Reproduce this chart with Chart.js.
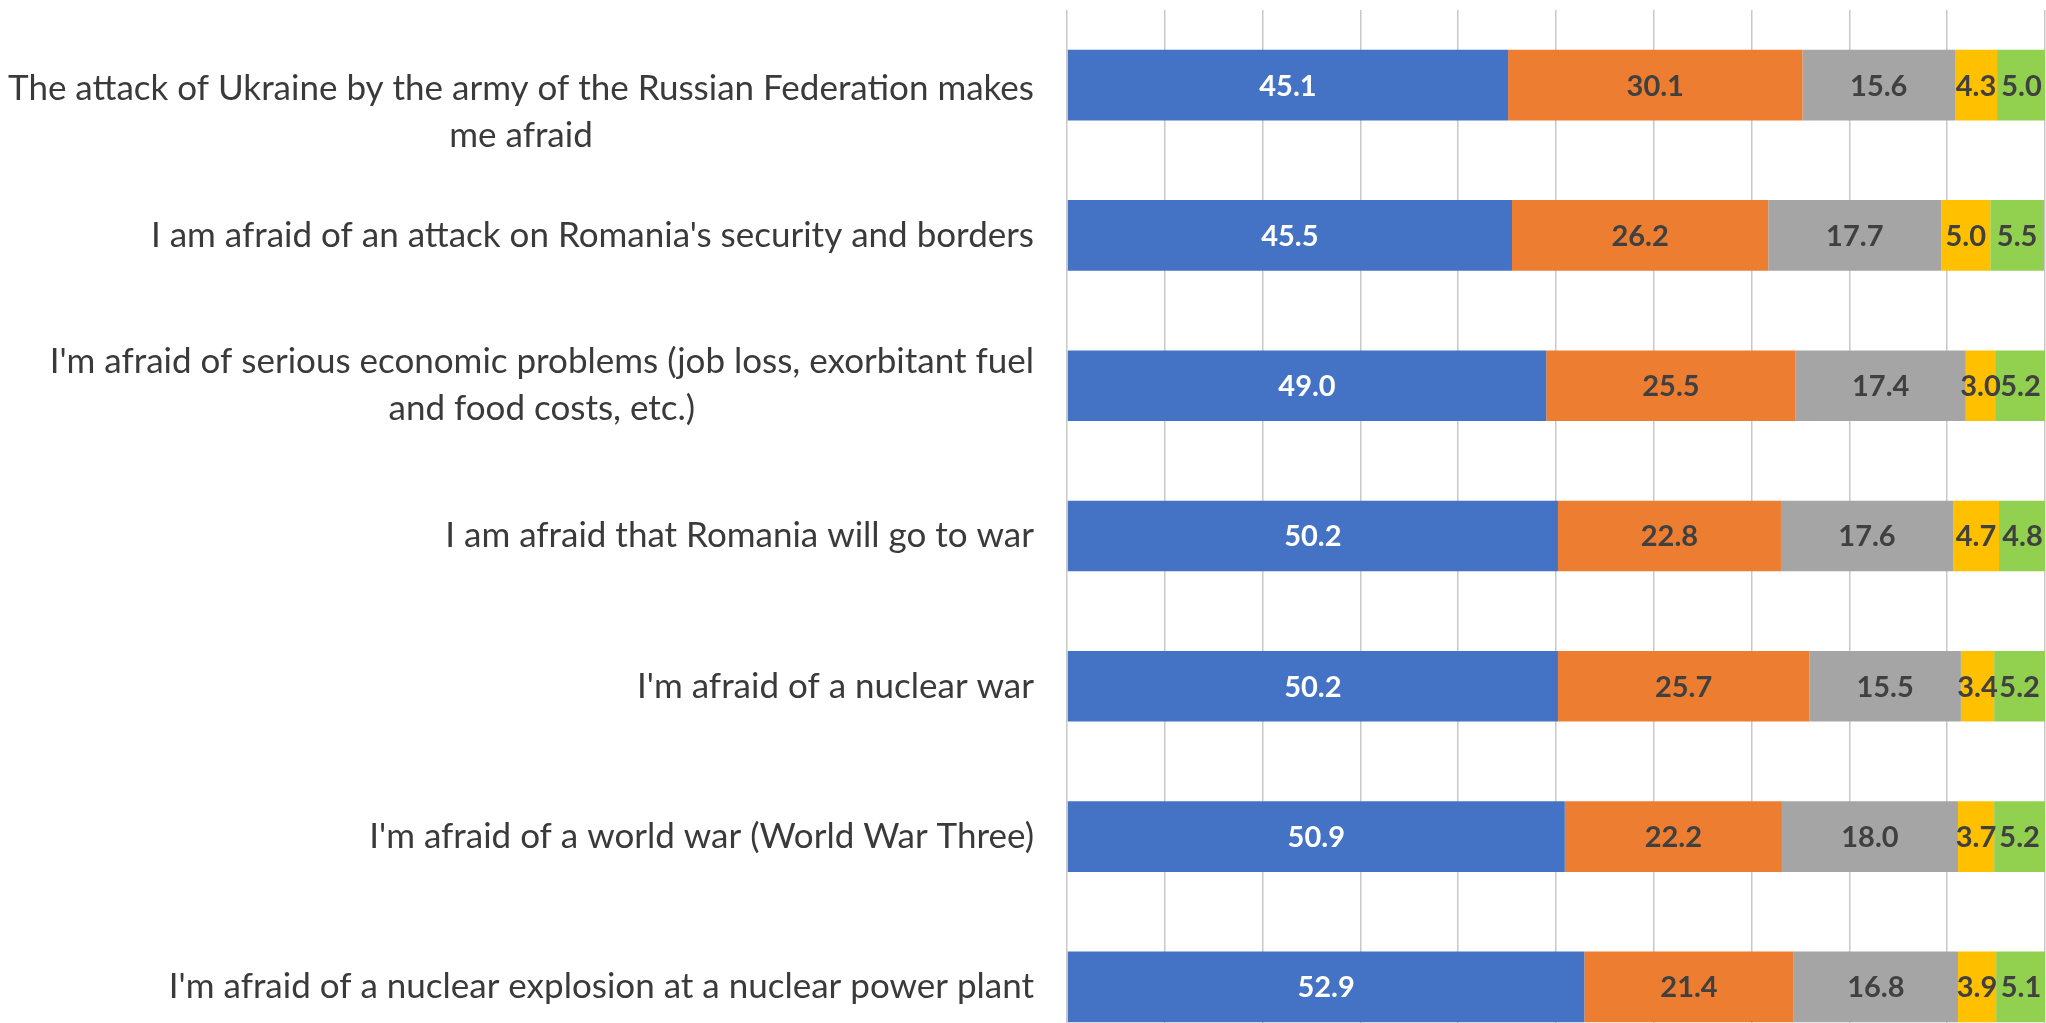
<!DOCTYPE html>
<html>
<head>
<meta charset="utf-8">
<title>Fears</title>
<script src="https://cdn.jsdelivr.net/npm/chart.js@4/dist/chart.umd.min.js"></script>
<style>
    html, body { margin: 0; padding: 0; background: #fff; overflow: hidden; }
    #wrap { position: absolute; left: 0; top: 0; width: 2046px; height: 1062px; }
</style>
</head>
<body>
<div id="wrap"><canvas id="myChart"></canvas></div>
<script>
// wrapped category labels, one array per line
var categories = [
    ['The attack of Ukraine by the army of the Russian Federation makes', 'me afraid'],
    ["I am afraid of an attack on Romania's security and borders"],
    ["I'm afraid of serious economic problems (job loss, exorbitant fuel", 'and food costs, etc.)'],
    ['I am afraid that Romania will go to war'],
    ["I'm afraid of a nuclear war"],
    ["I'm afraid of a world war (World War Three)"],
    ["I'm afraid of a nuclear explosion at a nuclear power plant"]
];

var seriesNames = ['Totally agree', 'Somewhat agree', 'Somewhat disagree', 'Totally disagree', "Don't know"];

var totallyAgree     = [45.1, 45.5, 49.0, 50.2, 50.2, 50.9, 52.9];
var somewhatAgree    = [30.1, 26.2, 25.5, 22.8, 25.7, 22.2, 21.4];
var somewhatDisagree = [15.6, 17.7, 17.4, 17.6, 15.5, 18.0, 16.8];
var totallyDisagree  = [4.3, 5.0, 3.0, 4.7, 3.4, 3.7, 3.9];
var dontKnow         = [5.0, 5.5, 5.2, 4.8, 5.2, 5.2, 5.1];

var colors = ['#4472C4', '#ED7D31', '#A5A5A5', '#FFC000', '#92D050'];
var valueColors = ['#ffffff', '#404040', '#404040', '#404040', '#404040'];

var labelFont = '35px Lato, "Open Sans", sans-serif';
var labelLineHeight = 47;

// category names: lines centred on each other, block right-aligned to the axis
var categoryLabels = {
    id: 'categoryLabels',
    afterDraw: function(chart){
        var ctx = chart.ctx;
        var yScale = chart.scales.y;
        var right = chart.chartArea.left - 33;
        ctx.save();
        ctx.font = labelFont;
        ctx.fillStyle = '#3a3a3a';
        ctx.textAlign = 'center';
        ctx.textBaseline = 'middle';
        chart.data.labels.forEach(function(lines, i){
            var widest = 0;
            lines.forEach(function(l){
                widest = Math.max(widest, ctx.measureText(l).width);
            });
            var cx = right - widest / 2;
            var blockH = lines.length * labelLineHeight;
            var y = yScale.getPixelForTick(i);
            // keep wrapped text clear of the top edge
            var top = Math.max(y - blockH / 2, chart.chartArea.top + 55);
            lines.forEach(function(l, k){
                ctx.fillText(l, cx, top + labelLineHeight * (k + 0.5));
            });
        });
        ctx.restore();
    }
};

// value printed in the middle of every segment
var segmentValues = {
    id: 'segmentValues',
    afterDatasetsDraw: function(chart){
        var ctx = chart.ctx;
        ctx.save();
        ctx.font = 'bold 29px Lato, "Open Sans", sans-serif';
        ctx.textAlign = 'center';
        ctx.textBaseline = 'middle';
        chart.data.datasets.forEach(function(ds, i){
            var meta = chart.getDatasetMeta(i);
            ctx.fillStyle = valueColors[i];
            meta.data.forEach(function(bar, j){
                var p = bar.getProps(['x', 'y', 'base'], true);
                ctx.fillText(ds.data[j].toFixed(1), (p.x + p.base) / 2, p.y + 1);
            });
        });
        ctx.restore();
    }
};

function getDataSets(){
    var values = [totallyAgree, somewhatAgree, somewhatDisagree, totallyDisagree, dontKnow];
    return values.map(function(v, i){
        return {
            label: seriesNames[i],
            data: v,
            backgroundColor: colors[i],
            borderWidth: 0,
            categoryPercentage: 1,
            barPercentage: 0.47
        };
    });
}

var myChart = new Chart(document.getElementById('myChart'), {
    type: 'bar',
    data: {
        labels: categories,
        datasets: getDataSets()
    },
    options: {
        indexAxis: 'y',
        responsive: true,
        maintainAspectRatio: false,
        animation: false,
        layout: { padding: { top: 10, right: 1, left: 0, bottom: 0 } },
        plugins: {
            legend: { display: false },
            tooltip: { enabled: false }
        },
        scales: {
            x: {
                stacked: true,
                min: 0,
                max: 100,
                ticks: { display: false, stepSize: 10 },
                grid: { color: '#C8C8C8', lineWidth: 1.5, drawTicks: false },
                border: { display: false },
                afterFit: function(s){ s.height = 0; }
            },
            y: {
                stacked: true,
                ticks: { display: false },
                grid: { display: false },
                border: { display: false },
                afterFit: function(s){ s.width = 1067; }
            }
        }
    },
    plugins: [categoryLabels, segmentValues]
});
</script>
</body>
</html>
